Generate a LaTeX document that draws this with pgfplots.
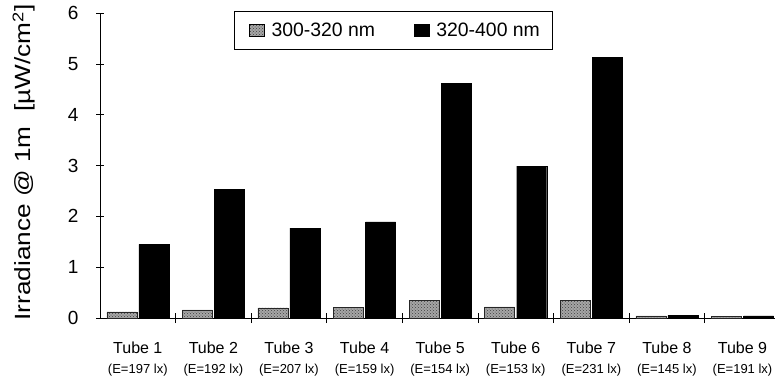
\documentclass[border=0pt]{standalone}
\usepackage{fontspec}
\setmainfont{Liberation Sans}
\usepackage{pgfplots}
\pgfplotsset{compat=1.18}
\usetikzlibrary{patterns}
\newcommand{\tl}[2]{Tube #1\\{\fontsize{13}{13}\selectfont (E=#2 lx)}}
\begin{document}
\begin{tikzpicture}[x=1pt,y=1pt]
\begin{axis}[
  at={(0,0)}, anchor=south west,
  scale only axis, width=675pt, height=305pt,
  ybar, bar width=30pt,
  xmin=-0.5, xmax=8.43, ymin=0, ymax=6,
  axis x line*=bottom, axis y line*=left,
  axis line style={line width=0.8pt},
  ytick={0,1,2,3,4,5,6},
  xtick={0,...,8},
  major x tick style={draw=none},
  minor xtick={0.5,1.5,...,7.5},
  minor tick length=10pt,
  major tick length=8pt,
  tick align=center,
  tick style={black, line width=0.6pt},
  /pgf/number format/assume math mode=true,
  yticklabel style={font=\fontsize{19}{21}\selectfont, xshift=-14pt},
  xticklabel style={align=center, font=\fontsize{16}{20}\selectfont, yshift=-16pt},
  xticklabels={
    {\tl{1}{197}},{\tl{2}{192}},{\tl{3}{207}},{\tl{4}{159}},{\tl{5}{154}},
    {\tl{6}{153}},{\tl{7}{231}},{\tl{8}{145}},{\tl{9}{191}}},
  ylabel={\scalebox{1.19}[1]{Irradiance @ 1m\ \ [µW/cm$^{\mathrm{2}}$]}},
  ylabel style={at={(axis description cs:-0.1126,0.51)}, anchor=center, font=\fontsize{22}{24}\selectfont},
  legend columns=2,
  legend image code/.code={\pgfpathmoveto{\pgfpoint{0pt}{0pt}}\pgfusepath{}\draw[#1, draw=black] (5pt,-6pt) rectangle (20pt,6pt);},
  legend style={at={(rel axis cs:0.1985,1.0066)}, anchor=north west,
    draw=black, line width=0.6pt, font=\fontsize{19.4}{21}\selectfont,
    inner xsep=10pt, inner ysep=9.5pt,
    /tikz/every odd column/.append style={column sep=5pt},
    /tikz/every even column/.append style={column sep=32pt}},
]
\addplot[fill=black!35, draw=black!85, line width=0.5pt,
  postaction={pattern=crosshatch dots, pattern color=black!75}] coordinates {
 (0,0.12) (1,0.16) (2,0.20) (3,0.21) (4,0.35) (5,0.22) (6,0.35) (7,0.04) (8,0.03)};
\addplot[fill=black, draw=black] coordinates {
 (0,1.45) (1,2.53) (2,1.77) (3,1.89) (4,4.62) (5,2.99) (6,5.13) (7,0.05) (8,0.04)};
\legend{300-320 nm, 320-400 nm}
\end{axis}
\pgfresetboundingbox
\path[use as bounding box] (-100pt,-63pt) rectangle (675pt,318pt);
\end{tikzpicture}
\end{document}
